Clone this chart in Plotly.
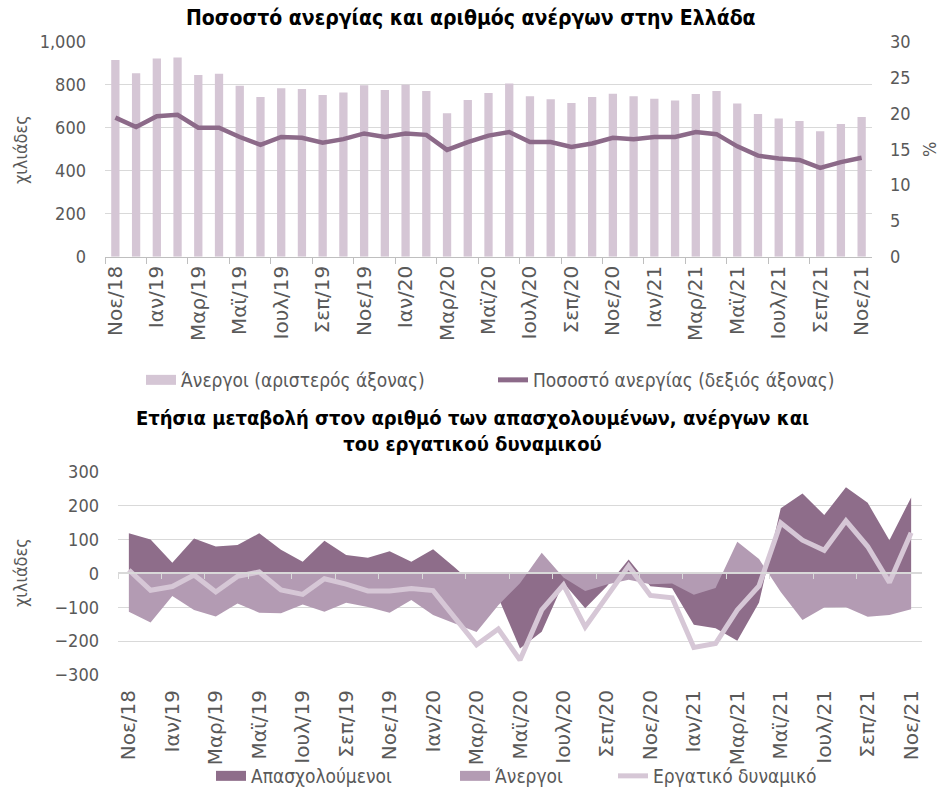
import plotly.graph_objects as go

# ---------------- data ----------------
months = ["Νοε/18", "Δεκ/18", "Ιαν/19", "Φεβ/19", "Μαρ/19", "Απρ/19", "Μαϊ/19", "Ιουν/19",
          "Ιουλ/19", "Αυγ/19", "Σεπ/19", "Οκτ/19", "Νοε/19", "Δεκ/19", "Ιαν/20", "Φεβ/20",
          "Μαρ/20", "Απρ/20", "Μαϊ/20", "Ιουν/20", "Ιουλ/20", "Αυγ/20", "Σεπ/20", "Οκτ/20",
          "Νοε/20", "Δεκ/20", "Ιαν/21", "Φεβ/21", "Μαρ/21", "Απρ/21", "Μαϊ/21", "Ιουν/21",
          "Ιουλ/21", "Αυγ/21", "Σεπ/21", "Οκτ/21", "Νοε/21"]

unemployed_k = [915, 853, 922, 927, 845, 851, 795, 743, 784, 780, 752, 764, 797, 775, 800, 771,
                667, 729, 761, 806, 746, 732, 715, 743, 758, 746, 735, 726, 757, 771, 713, 664,
                643, 631, 584, 617, 650]

unemployment_rate = [19.4, 18.1, 19.6, 19.8, 18.0, 18.0, 16.7, 15.6, 16.7, 16.6, 15.9, 16.4, 17.2,
                     16.7, 17.2, 17.0, 14.9, 16.0, 16.9, 17.4, 16.0, 16.0, 15.3, 15.8, 16.6, 16.4,
                     16.7, 16.7, 17.4, 17.1, 15.4, 14.1, 13.7, 13.5, 12.4, 13.2, 13.8]

employed_chg = [118, 100, 31, 103, 79, 84, 118, 70, 34, 96, 54, 46, 65, 34, 71, 17, -40, -71,
                -222, -172, -28, -103, -38, 41, -38, -44, -152, -162, -199, -86, 192, 236, 172,
                254, 208, 98, 224]

unemployed_chg = [-113, -145, -67, -108, -127, -89, -116, -118, -92, -113, -87, -99, -116, -79,
                  -123, -148, -173, -94, -29, 61, -12, -52, -33, -19, -32, -30, -63, -43, 93, 42,
                  -55, -138, -101, -100, -128, -123, -106]

labour_force_chg = [10, -50, -39, -5, -55, -9, 4, -49, -62, -16, -32, -52, -52, -45, -51, -130,
                    -211, -164, -256, -108, -34, -158, -70, 22, -65, -72, -219, -207, -108, -37,
                    149, 98, 68, 155, 79, -27, 120]

left_ticks_top = [0, 200, 400, 600, 800, 1000]
right_ticks_top = [0, 5, 10, 15, 20, 25, 30]
ticks_bottom = [-300, -200, -100, 0, 100, 200, 300]

# ---------------- styling ----------------
C_BAR = "#D5C6D5"
C_RATE = "#8C6A89"
C_EMP = "#8E6D8A"
C_UNE = "#B39BB3"
C_LF = "#D6C7D6"
GRID = "#D9D9D9"
AXIS = "#BFBFBF"
TXT = "#595959"
NARROW = "DejaVu Sans Condensed, Liberation Sans Narrow, sans-serif"
WIDE = "DejaVu Sans, Verdana, sans-serif"

n = len(months)
x = list(range(n))
label_idx = x[::2]
label_txt = [months[i] for i in label_idx]
boundaries = [i - 0.5 for i in label_idx[:-1]]

W, H = 942, 787
def px_x(p):
    return p / W
def px_y(p):
    return 1 - p / H

fig = go.Figure()

# ---- upper chart ----
fig.add_trace(go.Bar(x=x, y=unemployed_k, xaxis="x", yaxis="y", width=0.4,
                     marker=dict(color=C_BAR, line=dict(width=0)),
                     name="Άνεργοι (αριστερός άξονας)", showlegend=False))
fig.add_trace(go.Scatter(x=x, y=unemployment_rate, xaxis="x", yaxis="y2", mode="lines",
                         line=dict(color=C_RATE, width=4.5),
                         name="Ποσοστό ανεργίας (δεξιός άξονας)", showlegend=False))

# ---- lower chart ----
fig.add_trace(go.Scatter(x=x, y=employed_chg, xaxis="x2", yaxis="y3", mode="none",
                         fill="tozeroy", fillcolor=C_EMP, name="Απασχολούμενοι",
                         showlegend=False))
fig.add_trace(go.Scatter(x=x, y=unemployed_chg, xaxis="x2", yaxis="y3", mode="none",
                         fill="tozeroy", fillcolor=C_UNE, name="Άνεργοι", showlegend=False))
fig.add_trace(go.Scatter(x=x, y=labour_force_chg, xaxis="x2", yaxis="y3", mode="lines",
                         line=dict(color=C_LF, width=5), name="Εργατικό δυναμικό",
                         showlegend=False))
# carrier trace for the zero-crossing category axis of the lower chart
fig.add_trace(go.Scatter(x=x, y=labour_force_chg, xaxis="x3", yaxis="y3", mode="markers",
                         marker=dict(opacity=0), showlegend=False, hoverinfo="skip"))

# ---- legend keys (rectangular swatches like the original) ----
legend_items = [
    ("Άνεργοι (αριστερός άξονας)", C_BAR, 14, "legend", 183, 380),
    ("Ποσοστό ανεργίας (δεξιός άξονας)", C_RATE, 5, "legend2", 535, 380),
    ("Απασχολούμενοι", C_EMP, 14, "legend3", 253, 776),
    ("Άνεργοι", C_UNE, 14, "legend4", 497, 776),
    ("Εργατικό δυναμικό", C_LF, 5, "legend5", 655, 776),
]
legend_layout = {}
for name, color, lw, lg, text_x, ypos in legend_items:
    fig.add_trace(go.Scatter(x=[None], y=[None], xaxis="x", yaxis="y", mode="lines",
                             line=dict(color=color, width=lw), name=name,
                             legend=lg, showlegend=True))
    legend_layout[lg] = dict(orientation="h", x=px_x(text_x - 42), xanchor="left",
                             y=px_y(ypos), yanchor="middle", itemwidth=30,
                             font=dict(family=NARROW, size=19, color=TXT),
                             bgcolor="rgba(0,0,0,0)")

top_y = [px_y(256.7), px_y(41.7)]
bot_y = [px_y(675), px_y(471.7)]

fig.update_layout(
    template="none",
    width=W, height=H, margin=dict(l=0, r=0, t=0, b=0, pad=0, autoexpand=False),
    paper_bgcolor="white", plot_bgcolor="white", showlegend=True, hovermode=False,
    font=dict(family=NARROW, color=TXT, size=15),
    xaxis=dict(domain=[px_x(105), px_x(872)], anchor="y", range=[-0.5, n - 0.5],
               automargin=False,
               tickmode="array", tickvals=label_idx, ticktext=label_txt, tickangle=-90,
               ticks="", showgrid=False, zeroline=False, showline=True, linecolor=AXIS,
               linewidth=1, ticklabelstandoff=0,
               tickfont=dict(family=WIDE, size=20, color=TXT),
               minor=dict(tickmode="array", tickvals=boundaries, ticks="outside",
                          ticklen=6, tickcolor=AXIS, showgrid=False)),
    yaxis=dict(domain=top_y, anchor="x", range=[0, 1000], tickmode="array", automargin=False,
               tickvals=left_ticks_top, tickformat=",", gridcolor=GRID, gridwidth=1,
               zeroline=False, showline=False, ticks="", ticklabelstandoff=18,
               tickfont=dict(size=18, color=TXT)),
    yaxis2=dict(overlaying="y", side="right", anchor="x", range=[0, 30], tickmode="array",
                automargin=False,
                tickvals=right_ticks_top, showgrid=False, zeroline=False, ticks="",
                ticklabelstandoff=17, tickfont=dict(size=18, color=TXT)),
    xaxis2=dict(domain=[px_x(118), px_x(922)], anchor="y3", range=[-0.5, n - 0.5],
                automargin=False,
                tickmode="array", tickvals=label_idx, ticktext=label_txt, tickangle=-90,
                ticks="", showgrid=False, zeroline=False, showline=False,
                ticklabelstandoff=10, tickfont=dict(family=WIDE, size=20, color=TXT)),
    xaxis3=dict(overlaying="x2", anchor="free", position=(bot_y[0] + bot_y[1]) / 2,
                automargin=False,
                range=[-0.5, n - 0.5], showticklabels=False, ticks="", showgrid=False,
                zeroline=False, showline=True, linecolor=GRID, linewidth=2,
                minor=dict(tickmode="array", tickvals=boundaries, ticks="outside",
                           ticklen=5, tickcolor=GRID, showgrid=False)),
    yaxis3=dict(domain=bot_y, anchor="x2", range=[-300, 300], tickmode="array",
                automargin=False,
                tickvals=ticks_bottom, gridcolor=GRID, gridwidth=1, zeroline=False,
                showline=False, ticks="", ticklabelstandoff=18,
                tickfont=dict(size=18, color=TXT)),
    annotations=[
        dict(text="<b>Ποσοστό ανεργίας και αριθμός ανέργων στην Ελλάδα</b>", xref="paper",
             yref="paper", x=px_x(471), y=px_y(18), xanchor="center", yanchor="middle",
             showarrow=False, font=dict(family=NARROW, size=21, color="#000000")),
        dict(text="<b>Ετήσια μεταβολή στον αριθμό των απασχολουμένων, ανέργων και<br>"
                  "του εργατικού δυναμικού</b>", xref="paper", yref="paper",
             x=px_x(472), y=px_y(431), xanchor="center", yanchor="middle", showarrow=False,
             font=dict(family=NARROW, size=20, color="#000000")),
        dict(text="χιλιάδες", xref="paper", yref="paper", x=px_x(20), y=px_y(150),
             xanchor="center", yanchor="middle", textangle=-90, showarrow=False,
             font=dict(family=NARROW, size=18, color=TXT)),
        dict(text="%", xref="paper", yref="paper", x=px_x(929), y=px_y(150),
             xanchor="center", yanchor="middle", textangle=-90, showarrow=False,
             font=dict(family=NARROW, size=18, color=TXT)),
        dict(text="χιλιάδες", xref="paper", yref="paper", x=px_x(20), y=px_y(573),
             xanchor="center", yanchor="middle", textangle=-90, showarrow=False,
             font=dict(family=NARROW, size=18, color=TXT)),
    ],
    **legend_layout,
)

fig.write_html("out.html", config={"displayModeBar": False},
               post_script="document.body.style.margin='0px';"
                           "document.body.style.overflow='hidden';")
